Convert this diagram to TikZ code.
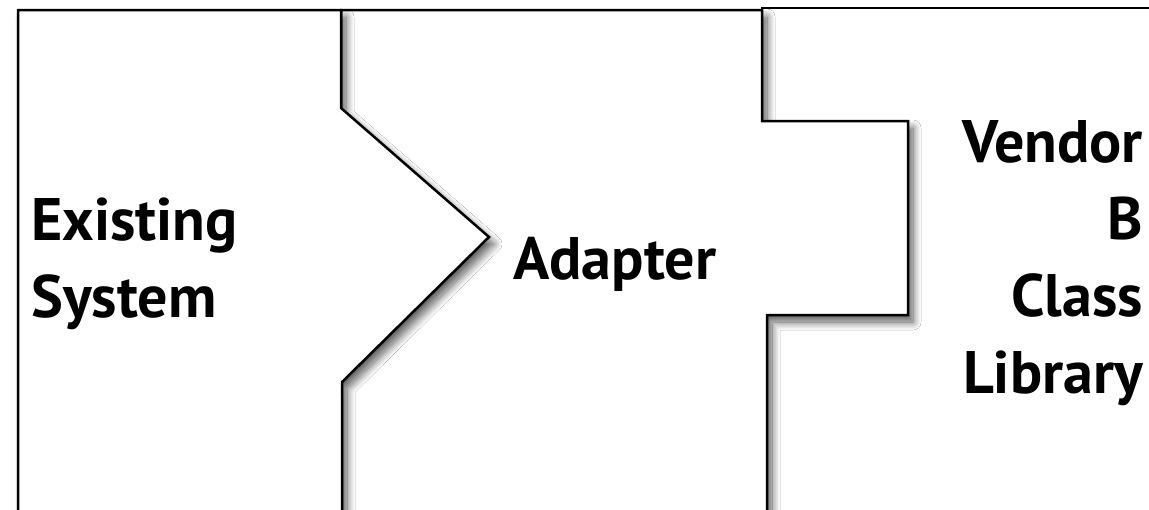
\documentclass[tikz,border=0pt]{standalone}
\usepackage{fontspec}
\setmainfont{PT Sans}
\usetikzlibrary{positioning, shadows.blur}

\begin{document}
\begin{tikzpicture}[x=1pt, y=-1pt,
    part/.style={draw=black, line width=2.5pt, fill=white, line join=miter,
        blur shadow={shadow xshift=5pt, shadow yshift=-7pt, shadow blur radius=8pt,
            shadow blur steps=12, shadow opacity=65}},
    partlabel/.style={font=\fontsize{60}{77}\selectfont\bfseries, inner sep=0pt}]
        \useasboundingbox (0,0) rectangle (1149,509);
        \clip (0,0) rectangle (1149,509);

                % Draw the vendor library block
                \draw[part] (762,8) -- (1170,8) -- (1170,530) -- (762,530) -- cycle;

                % Draw the adapter block
                \draw[part] (341,10) -- (762,10) -- (762,121) -- (908,121) -- (908,315)
                    -- (767,315) -- (767,530) -- (342,530) -- cycle;

                % Draw the existing system block with its plug
                \draw[part] (18,10) -- (341,10) -- (341,108) -- (489,237) -- (342,382)
                    -- (342,530) -- (18,530) -- cycle;

                % Labels (base = last line)
                \node[partlabel, align=left, anchor=base west] (existing) at (31,317) {Existing\\System};
                \node[partlabel, anchor=base west] (adapter) at (513,279) {Adapter};
                \node[partlabel, align=right, anchor=base east] (vendor) at (1143,393) {Vendor\\B\\Class\\Library};
    \end{tikzpicture}
\end{document}
